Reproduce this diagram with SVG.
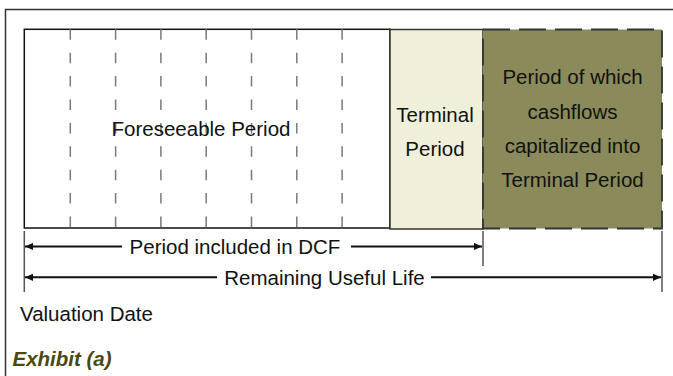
<svg xmlns="http://www.w3.org/2000/svg" width="673" height="376" viewBox="0 0 673 376">
<defs>
<style>
text{font-family:"Liberation Sans",Arial,sans-serif;font-size:20.5px;fill:#111}
.c{text-anchor:middle}
.grid{stroke:#7a7a7a;stroke-width:1.5;stroke-dasharray:10.5 12.9}
.tick{stroke:#555;stroke-width:1.5}
.arr{stroke:#111;stroke-width:2;fill:none}
.ex{font-weight:bold;font-style:italic;fill:#4b4812}
</style>
<marker id="ah" viewBox="0 0 10 10" refX="10" refY="5" markerWidth="8" markerHeight="8" markerUnits="userSpaceOnUse" orient="auto-start-reverse">
<path d="M0,0.5 L10,5 L0,9.5 Z" fill="#111"/>
</marker>
</defs>
<rect width="673" height="376" fill="#fff"/>
<g id="frame">
<path d="M5.5,376 V9.5 H673" fill="none" stroke="#333" stroke-width="1.5"/>
</g>
<g id="foreseeable">
<rect x="24.3" y="29.3" width="365.7" height="198.7" fill="#fff" stroke="#111" stroke-width="1.5"/>
<path class="grid" d="M70.3,29.3V228 M115.6,29.3V228 M160.9,29.3V228 M206.2,29.3V228 M251.5,29.3V228 M296.8,29.3V228 M342.1,29.3V228"/>
<text class="c" x="201" y="136">Foreseeable Period</text>
</g>
<g id="terminal">
<rect x="390" y="29.5" width="93" height="199.5" fill="#f0f0da" stroke="#333" stroke-width="1.5"/>
<text class="c" x="435" y="122">Terminal</text>
<text class="c" x="435" y="155.5">Period</text>
</g>
<g id="capitalized">
<rect x="483" y="29.5" width="179" height="199" fill="#8b8a5a" stroke="#333" stroke-width="1.8" stroke-dasharray="27 9"/>
<text class="c" x="572.5" y="84">Period of which</text>
<text class="c" x="572.5" y="118.5">cashflows</text>
<text class="c" x="572.5" y="153">capitalized into</text>
<text class="c" x="572.5" y="187">Terminal Period</text>
</g>
<g id="connectors">
<path class="tick" d="M24.3,231V292 M483,231V266 M662,231V292"/>
<path class="arr" d="M122,246.5H25" marker-end="url(#ah)"/>
<path class="arr" d="M351,246.5H482" marker-end="url(#ah)"/>
<path class="arr" d="M217,277.3H25" marker-end="url(#ah)"/>
<path class="arr" d="M431,277.3H661" marker-end="url(#ah)"/>
</g>
<g id="labels">
<text class="c" x="235" y="253.5">Period included in DCF</text>
<text class="c" x="324.5" y="284.5">Remaining Useful Life</text>
<text x="20" y="321">Valuation Date</text>
<text class="ex" x="12.5" y="366">Exhibit (a)</text>
</g>
</svg>
